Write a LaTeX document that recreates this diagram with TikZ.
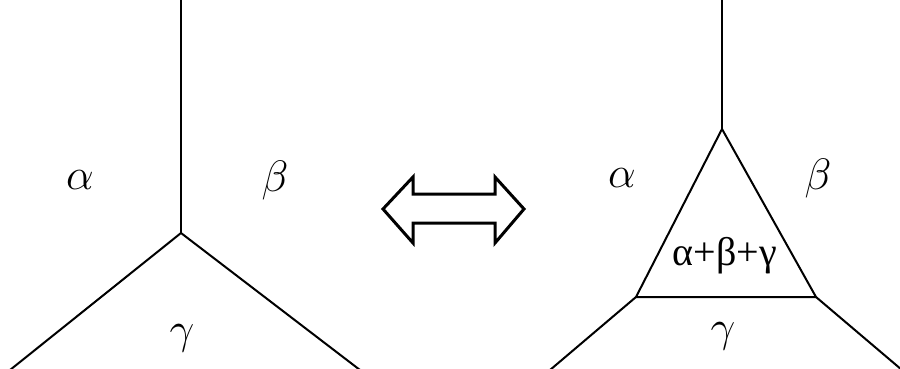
\RequirePackage{fix-cm}
\documentclass[tikz,border=0pt]{standalone}
\usepackage{amsmath}
\usepackage{fontspec}
\setmainfont{Liberation Serif}
\usetikzlibrary{positioning}

\begin{document}
\begin{tikzpicture}[x=1pt, y=-1pt, line width=2pt,
        lbl/.style={font=\fontsize{44}{50}\selectfont, inner sep=0pt}]
            \useasboundingbox (0, 0) rectangle (900, 368);

            % left picture
            \coordinate (Ltop) at (181, -2);
            \coordinate (Lv) at (181, 233);
            \coordinate (Lleft) at (10, 370);
            \coordinate (Lright) at (360, 370);
            \draw (Ltop) -- (Lv);
            \draw (Lleft) -- (Lv) -- (Lright);
            \node [lbl] (La) at (80, 180) {$\alpha$};
            \node [lbl] (Lb) at (275, 180) {$\beta$};
            \node [lbl] (Lg) at (182, 338) {$\gamma$};

            % double arrow
            \draw [line width=3pt, line join=miter]
                (383, 209) -- (413, 177) -- (413, 194) -- (495, 194) -- (495, 177)
                -- (524, 209) -- (495, 243) -- (495, 223) -- (413, 223) -- (413, 243) -- cycle;

            % right picture
            \coordinate (Rtop) at (722, -2);
            \coordinate (Rv) at (722, 129);
            \coordinate (Rl) at (636, 297);
            \coordinate (Rr) at (816, 297);
            \coordinate (Rleft) at (550, 370);
            \coordinate (Rright) at (902, 370);
            \draw (Rtop) -- (Rv);
            \draw (Rv) -- (Rl) -- (Rr) -- cycle;
            \draw (Rleft) -- (Rl);
            \draw (Rr) -- (Rright);
            \node [lbl] (Ra) at (622, 178) {$\alpha$};
            \node [lbl] (Rb) at (818, 178) {$\beta$};
            \node [lbl] (Rg) at (723, 336) {$\gamma$};
            \node [inner sep=0pt, font=\fontsize{40}{46}\selectfont] (Rs) at (725, 256) {α+β+γ};
        \end{tikzpicture}
\end{document}
